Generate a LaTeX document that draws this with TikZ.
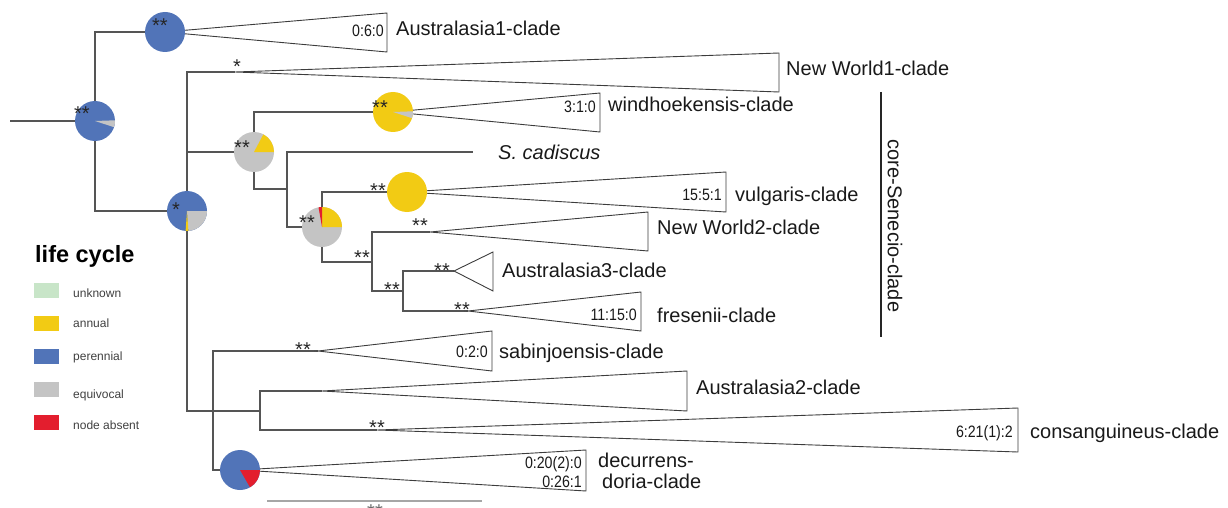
\documentclass[tikz,border=0pt]{standalone}
\usepackage{fontspec}
\setmainfont{Liberation Sans}
\newfontfamily\condfont[FakeStretch=0.86]{Liberation Sans}
\definecolor{cunk}{RGB}{200,229,200}
\definecolor{cann}{RGB}{242,203,20}
\definecolor{cper}{RGB}{81,116,184}
\definecolor{cequ}{RGB}{196,196,196}
\definecolor{cabs}{RGB}{227,30,46}
\definecolor{cline}{RGB}{85,85,85}
\definecolor{ctri}{RGB}{60,60,60}
\newcommand{\pieslice}[4]{\begin{scope}[shift={(#1)},yscale=-1]\fill[#4] (0,0) -- (#2:20) arc[start angle=#2,end angle=#3,radius=20] -- cycle;\end{scope}}
\tikzset{
  branch/.style={draw=cline, line width=1.1pt},
  tri/.style={draw=ctri, line width=0.9pt, line join=miter},
  lbl/.style={anchor=base west, font=\fontsize{20}{24}\selectfont, inner sep=0pt, text=black!90},
  cnt/.style={anchor=base east, font=\condfont\fontsize{16.5}{19}\selectfont, inner sep=0pt, text=black!90},
  astk/.style={anchor=base, font=\fontsize{20}{22}\selectfont, inner sep=0pt, text=black!85},
  leg/.style={anchor=base west, font=\fontsize{12}{14}\selectfont, inner sep=0pt, text=black!75},
  swatch/.style={minimum width=25pt, minimum height=15pt, inner sep=0pt, draw=none}
}
\begin{document}
\begin{tikzpicture}[x=1pt,y=-1pt]
\useasboundingbox (0,0) rectangle (1228,508);
% coordinates
\coordinate (r0) at (10,121);
\coordinate (nR) at (95,121);
\coordinate (nAus1) at (165,32);
\coordinate (nA) at (187,211);
\coordinate (aNW1) at (235,72);
\coordinate (nB) at (254,152);
\coordinate (nW) at (393,112);
\coordinate (nE) at (287,189);
\coordinate (eCad) at (473,152);
\coordinate (nF) at (322,227);
\coordinate (nV) at (407,192);
\coordinate (nG) at (372,262);
\coordinate (aNW2) at (430,232);
\coordinate (nH) at (403,291);
\coordinate (aAus3) at (454,271);
\coordinate (aFres) at (468,311);
\coordinate (nC) at (213,411);
\coordinate (aSab) at (318,351);
\coordinate (nDec) at (240,470);
\coordinate (nD) at (260,411);
\coordinate (aAus2) at (322,391);
\coordinate (aCons) at (377,430);
% branches
\draw[branch] (r0) -- (nR);
\draw[branch] (nR) |- (nAus1);
\draw[branch] (nR) |- (nA);
\draw[branch] (nA) |- (aNW1);
\draw[branch] (nA) |- (nB);
\draw[branch] (nA) |- (nD);
\draw[branch] (nB) |- (nW);
\draw[branch] (nB) |- (nE);
\draw[branch] (nE) |- (eCad);
\draw[branch] (nE) |- (nF);
\draw[branch] (nF) |- (nV);
\draw[branch] (nF) |- (nG);
\draw[branch] (nG) |- (aNW2);
\draw[branch] (nG) |- (nH);
\draw[branch] (nH) |- (aAus3);
\draw[branch] (nH) |- (aFres);
\draw[branch] (nC) |- (aSab);
\draw[branch] (nC) |- (nDec);
\draw[branch] (nD) |- (aAus2);
\draw[branch] (nD) |- (aCons);
% collapsed clades
\draw[tri] (nAus1) -- (387,13) -- (387,52) -- cycle;
\draw[tri] (aNW1) -- (779,53) -- (779,92) -- cycle;
\draw[tri] (nW) -- (600,93) -- (600,132) -- cycle;
\draw[tri] (nV) -- (726,172) -- (726,212) -- cycle;
\draw[tri] (aNW2) -- (648,212) -- (648,251) -- cycle;
\draw[tri] (aAus3) -- (493,252) -- (493,291) -- cycle;
\draw[tri] (aFres) -- (641,292) -- (641,331) -- cycle;
\draw[tri] (aSab) -- (492,331) -- (492,371) -- cycle;
\draw[tri] (aAus2) -- (687,371) -- (687,411) -- cycle;
\draw[tri] (aCons) -- (1018,408) -- (1018,452) -- cycle;
\draw[tri] (nDec) -- (586,450) -- (586,491) -- cycle;
% pies
\fill[cper] (nR) circle[radius=20];
\pieslice{nR}{-18}{2}{cequ}
\fill[cper] (nAus1) circle[radius=20];
\fill[cper] (nA) circle[radius=20];
\pieslice{nA}{-86}{0}{cequ}
\pieslice{nA}{-94}{-86}{cann}
\fill[cequ] (nB) circle[radius=20];
\pieslice{nB}{0}{62}{cann}
\fill[cann] (nW) circle[radius=20];
\pieslice{nW}{-18}{2}{cequ}
\fill[cequ] (nF) circle[radius=20];
\pieslice{nF}{0}{90}{cann}
\pieslice{nF}{90}{100}{cabs}
\fill[cann] (nV) circle[radius=20];
\fill[cper] (nDec) circle[radius=20];
\pieslice{nDec}{-60}{0}{cabs}
% support values
\node[astk] (s1) at (82,121) {**};
\node[astk] (s2) at (160,33) {**};
\node[astk] (s3) at (237,74) {*};
\node[astk] (s4) at (176,216) {*};
\node[astk] (s5) at (242,154) {**};
\node[astk] (s6) at (380,115) {**};
\node[astk] (s7) at (307,229) {**};
\node[astk] (s8) at (378,197) {**};
\node[astk] (s9) at (420,232) {**};
\node[astk] (s10) at (362,264) {**};
\node[astk] (s11) at (392,296) {**};
\node[astk] (s12) at (442,277) {**};
\node[astk] (s13) at (462,316) {**};
\node[astk] (s14) at (303,356) {**};
\node[astk] (s15) at (377,434) {**};
% counts
\node[cnt] (c1) at (384,37) {0:6:0};
\node[cnt] (c2) at (596,113) {3:1:0};
\node[cnt] (c3) at (722,200) {15:5:1};
\node[cnt] (c4) at (637,320) {11:15:0};
\node[cnt] (c5) at (488,357) {0:2:0};
\node[cnt] (c6) at (1013,437) {6:21(1):2};
\node[cnt] (c7) at (582,468) {0:20(2):0};
\node[cnt] (c8) at (582,487) {0:26:1};
% clade labels
\node[lbl] (l1) at (396,36) {Australasia1-clade};
\node[lbl] (l2) at (786,76) {New World1-clade};
\node[lbl] (l3) at (608,112) {windhoekensis-clade};
\node[lbl] (l4) at (498,159) {\itshape S. cadiscus};
\node[lbl] (l5) at (735,201) {vulgaris-clade};
\node[lbl] (l6) at (657,234) {New World2-clade};
\node[lbl] (l7) at (502,277) {Australasia3-clade};
\node[lbl] (l8) at (657,322) {fresenii-clade};
\node[lbl] (l9) at (499,358) {sabinjoensis-clade};
\node[lbl] (l10) at (696,394) {Australasia2-clade};
\node[lbl] (l11) at (1030,438) {consanguineus-clade};
\node[lbl] (l12) at (598,467) {decurrens-};
\node[lbl] (l13) at (602,488) {doria-clade};
% core bar
\coordinate (coreTop) at (881,92);
\coordinate (coreBot) at (881,337);
\draw[line width=1.6pt, black!85] (coreTop) -- (coreBot);
\node[rotate=-90, font=\fontsize{20}{24}\selectfont, inner sep=0pt, text=black!90] (core) at (895,226) {core-Senecio-clade};
% legend
\node[anchor=base west, font=\bfseries\fontsize{23.5}{26}\selectfont, inner sep=0pt] (lt) at (35,262) {life cycle};
\node[swatch, fill=cunk] (k1) at (46.5,290.5) {};
\node[swatch, fill=cann] (k2) at (46.5,323.5) {};
\node[swatch, fill=cper] (k3) at (46.5,356) {};
\node[swatch, fill=cequ] (k4) at (46.5,389.5) {};
\node[swatch, fill=cabs] (k5) at (46.5,422.5) {};
\node[leg] (t1) at (73,297) {unknown};
\node[leg] (t2) at (73,327) {annual};
\node[leg] (t3) at (73,360) {perennial};
\node[leg] (t4) at (73,398) {equivocal};
\node[leg] (t5) at (73,429) {node absent};
% scale bar
\coordinate (sbL) at (267,501);
\coordinate (sbR) at (482,501);
\draw[line width=1.8pt, black!35] (sbL) -- (sbR);
\node[astk, text=black!60] (sb) at (375,518) {**};
\end{tikzpicture}
\end{document}
